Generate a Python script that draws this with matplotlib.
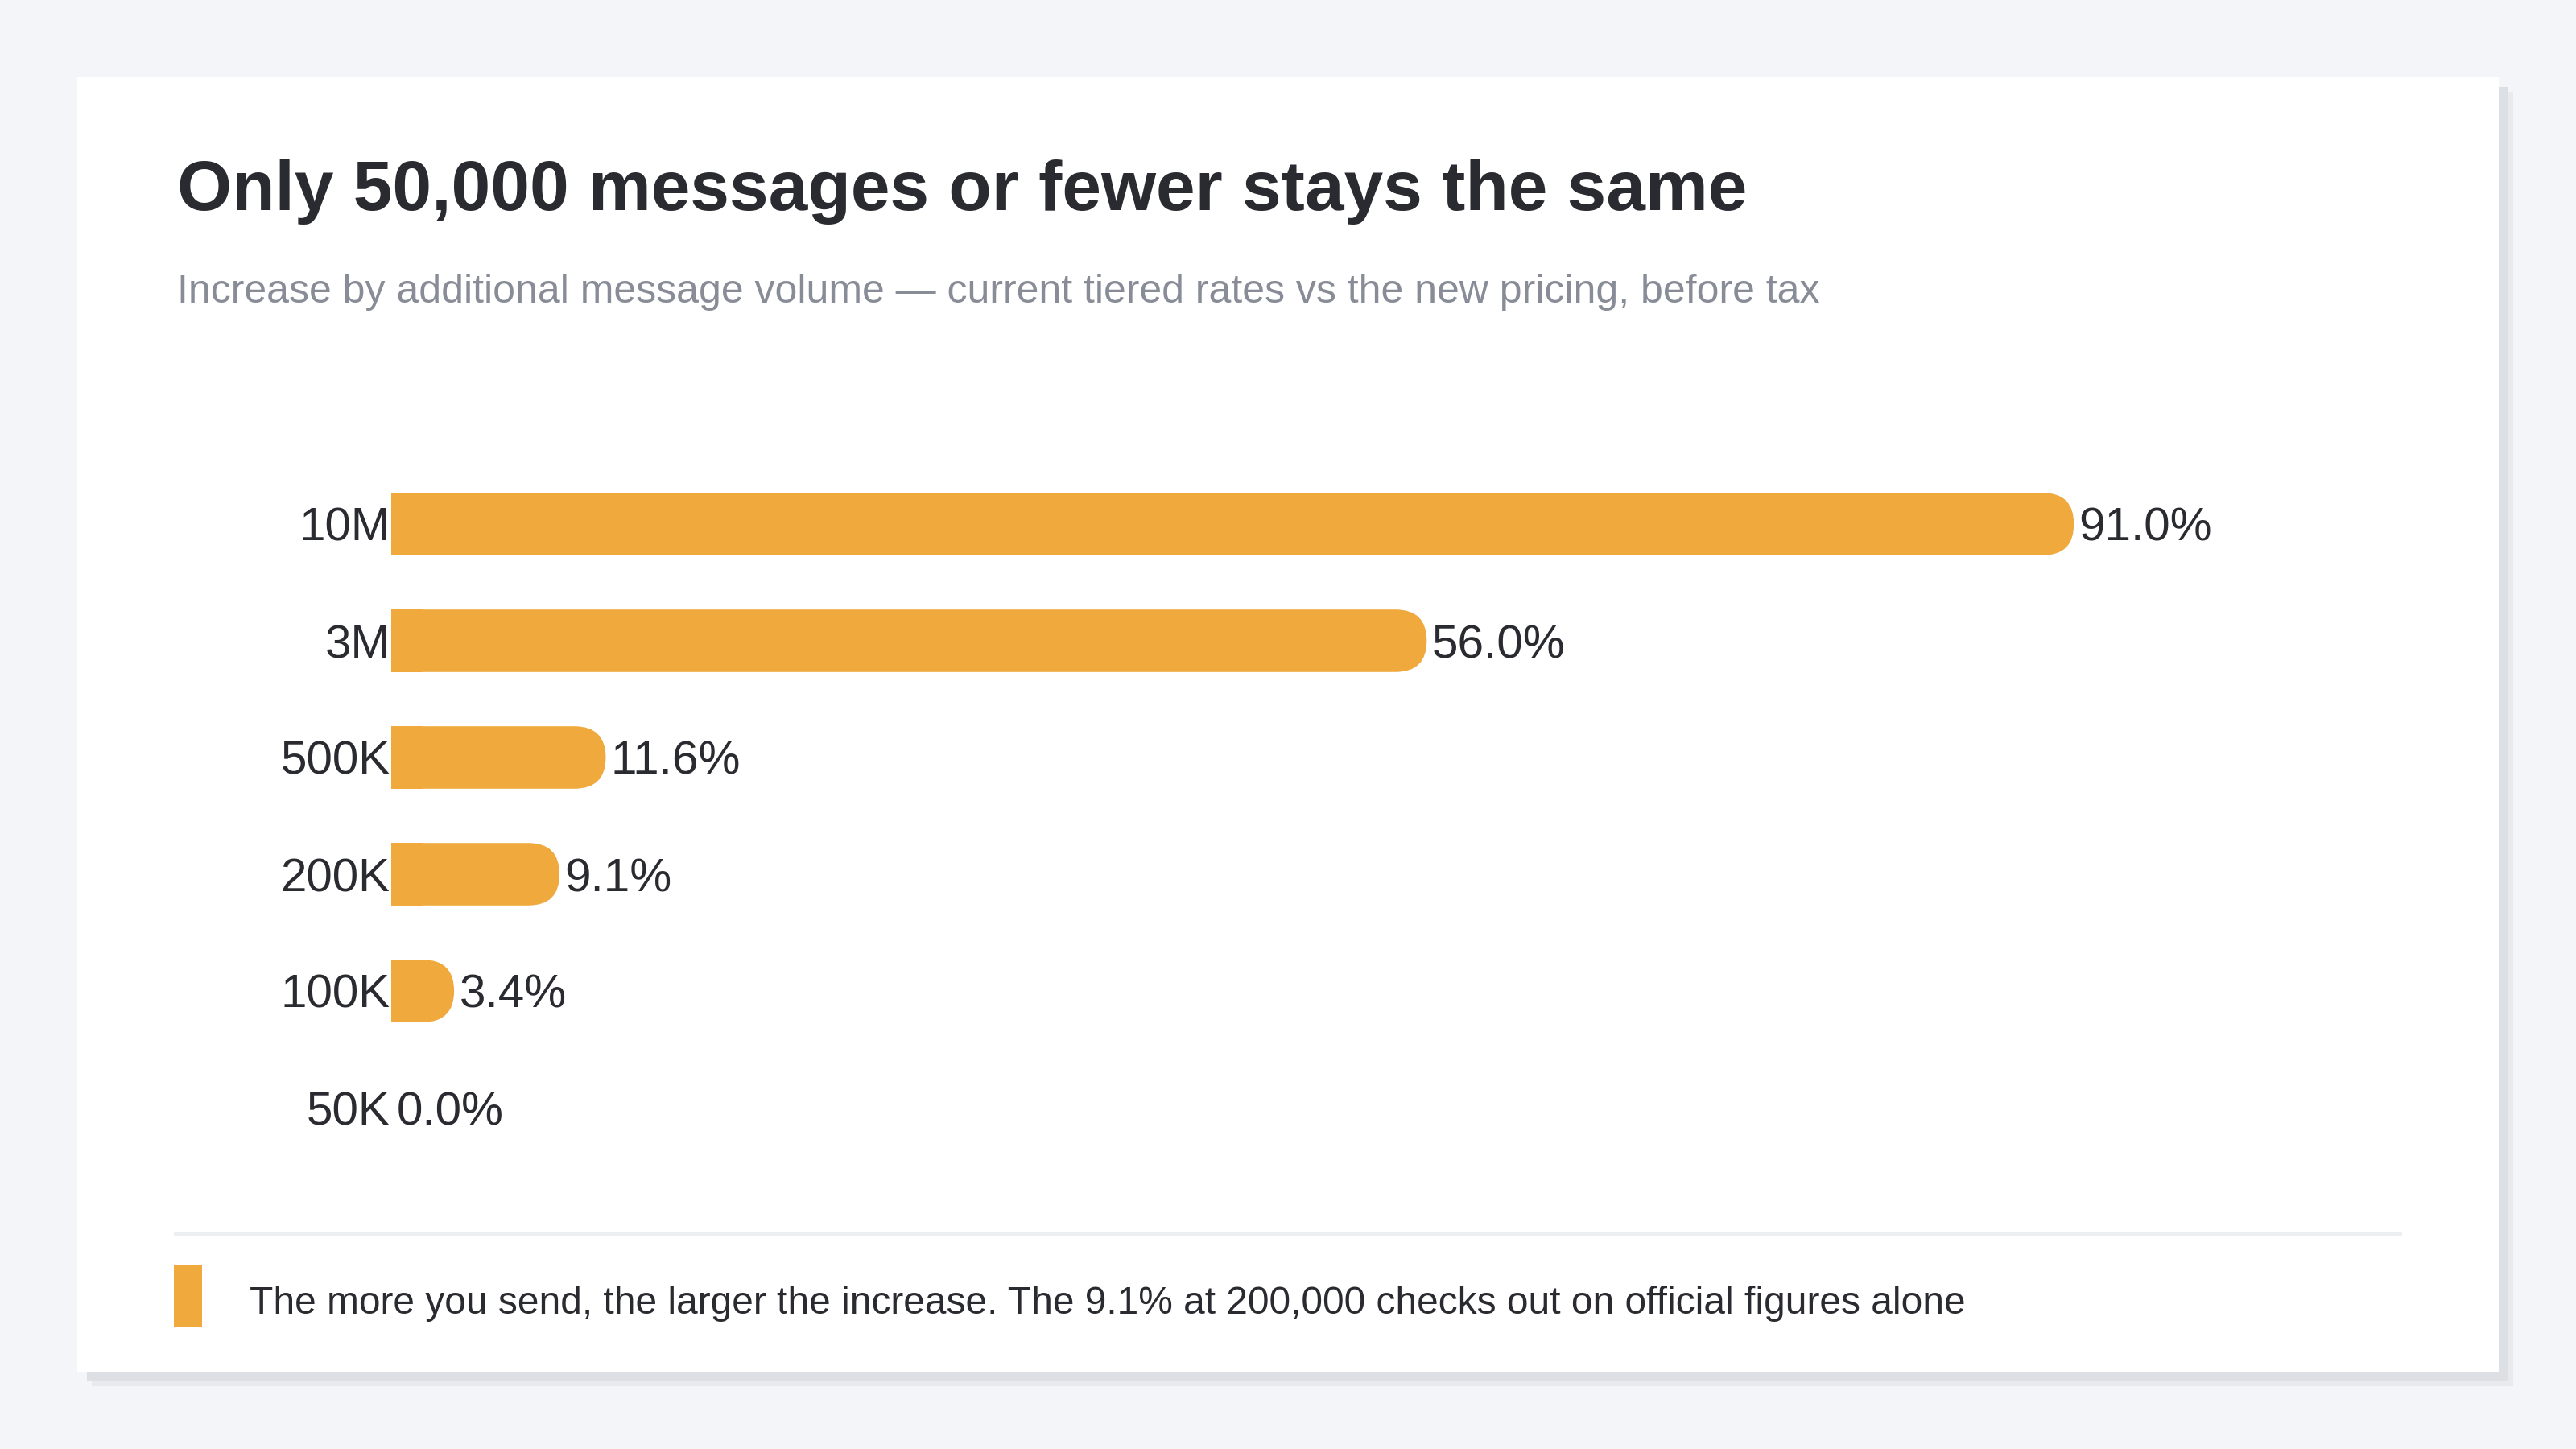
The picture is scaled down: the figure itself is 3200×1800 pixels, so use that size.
import matplotlib
matplotlib.use("Agg")
import matplotlib.pyplot as plt
from matplotlib.patches import Rectangle, FancyBboxPatch

# ---- data ----
categories = ["10M", "3M", "500K", "200K", "100K", "50K"]
increase_pct = [91.0, 56.0, 11.6, 9.1, 3.4, 0.0]
value_labels = ["91.0%", "56.0%", "11.6%", "9.1%", "3.4%", "0.0%"]

title = "Only 50,000 messages or fewer stays the same"
subtitle = "Increase by additional message volume \u2014 current tiered rates vs the new pricing, before tax"
note = "The more you send, the larger the increase. The 9.1% at 200,000 checks out on official figures alone"

BG = "#f4f5f9"
CARD = "#ffffff"
BAR = "#f0a93c"
DARK = "#2a2b30"
GREY = "#878c96"

plt.rcParams['font.family'] = ['Liberation Sans', 'DejaVu Sans']

W, H = 3200, 1800
fig = plt.figure(figsize=(32, 18), dpi=100)
fig.patch.set_facecolor(BG)

# overlay in pixel coordinates (y down)
ov = fig.add_axes([0, 0, 1, 1])
ov.set_xlim(0, W)
ov.set_ylim(H, 0)
ov.axis("off")

cx0, cy0, cx1, cy1 = 96, 96, 3104, 1704
ov.add_patch(Rectangle((cx0 + 18, cy0 + 18), cx1 - cx0, cy1 - cy0, facecolor="#e9eaee", edgecolor="none", zorder=0))
ov.add_patch(Rectangle((cx0 + 12, cy0 + 12), cx1 - cx0, cy1 - cy0, facecolor="#dcdfe4", edgecolor="none", zorder=0.5))
ov.add_patch(Rectangle((cx0, cy0), cx1 - cx0, cy1 - cy0, facecolor=CARD, edgecolor="none", zorder=1))

ov.text(220, 261, title, fontsize=63, fontweight="bold", color=DARK, va="baseline", ha="left", zorder=3)
ov.text(220, 376, subtitle, fontsize=36, color=GREY, va="baseline", ha="left", zorder=3)

# divider
ov.add_patch(Rectangle((216, 1531), 2768, 4, facecolor="#eceef2", edgecolor="none", zorder=2))
# legend swatch and note
ov.add_patch(Rectangle((216, 1572), 35, 76, facecolor=BAR, edgecolor="none", zorder=2))
ov.text(310, 1614, note, fontsize=34.5, color=DARK, va="center_baseline", ha="left", zorder=3)

# ---- bar axes ----
n = len(categories)
x0_px, x100_px = 486, 486 + 2297
row_px = 145
top_center = 651
ax_top = top_center - row_px / 2
ax_bot = top_center + (n - 1) * row_px + row_px / 2
ax = fig.add_axes([x0_px / W, (H - ax_bot) / H, (x100_px - x0_px) / W, (ax_bot - ax_top) / H])
ax.set_xlim(0, 100)
ax.set_ylim(n - 0.5, -0.5)
ax.patch.set_alpha(0)
for s in ax.spines.values():
    s.set_visible(False)
ax.set_xticks([])
ax.set_yticks(range(n))
ax.set_yticklabels(categories, fontsize=42, color=DARK)
ax.tick_params(axis="y", length=0, pad=1)

bar_h = 0.535
fig.canvas.draw()
bb = ax.get_window_extent()
px_per_x = bb.width / 100.0
px_per_y = bb.height / n
r_px = bar_h * px_per_y / 2
r_x = r_px / px_per_x
aspect = (r_px / px_per_y) / r_x

for i, v in enumerate(increase_pct):
    if v > 0:
        ax.add_patch(FancyBboxPatch((0, i - bar_h / 2), v, bar_h,
                                    boxstyle=f"round,pad=0,rounding_size={r_x}",
                                    mutation_aspect=aspect,
                                    facecolor=BAR, edgecolor="none", zorder=2))
        ax.barh(i, min(v / 2, r_x), height=bar_h, left=0, color=BAR, edgecolor="none", zorder=2)
    ax.annotate(value_labels[i], (v, i), xytext=(4.5, 0), textcoords="offset points",
                fontsize=42, color=DARK, va="center_baseline", ha="left")

fig.savefig("out.png", dpi=100, facecolor=BG)
